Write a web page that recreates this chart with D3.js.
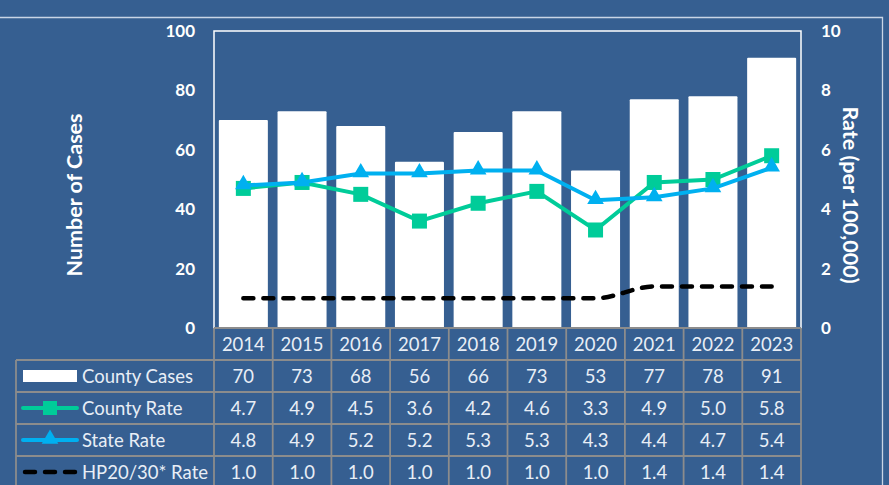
<!doctype html>
<html lang="en">
  <head>
    <meta charset="utf-8">
    <title>Cases and Rates 2014-2023</title>
    <script src="https://d3js.org/d3.v7.min.js"></script>
    <style>
      body { margin: 0; background: #365f91; }
      svg { display: block; }
    </style>
  </head>
  <body>
    <div id="chart"></div>
    <script>
      // data
      const years = ["2014", "2015", "2016", "2017", "2018", "2019", "2020", "2021", "2022", "2023"];
      const countyCases = [70, 73, 68, 56, 66, 73, 53, 77, 78, 91];
      const countyRate = [4.7, 4.9, 4.5, 3.6, 4.2, 4.6, 3.3, 4.9, 5.0, 5.8];
      const stateRate = [4.8, 4.9, 5.2, 5.2, 5.3, 5.3, 4.3, 4.4, 4.7, 5.4];
      const hpRate = [1.0, 1.0, 1.0, 1.0, 1.0, 1.0, 1.0, 1.4, 1.4, 1.4];
      const casesTicks = [0, 20, 40, 60, 80, 100];
      const rateTicks = [0, 2, 4, 6, 8, 10];

      const W = 889, H = 485;
      const plot = {left: 214, right: 801, top: 31, bottom: 328};
      const rowH = 32;
      const font = "Lato, 'Open Sans', sans-serif";
      const green = "#00cc99", blue = "#00b0f0", grid = "#8c8c8c", txt = "#e8eef6";

      const svg = d3.select("#chart").append("svg")
        .attr("width", W).attr("height", H)
        .style("font-family", font);

      svg.append("rect").attr("width", W).attr("height", H).attr("fill", "#365f91");

      // outer light frame line
      svg.append("path")
        .attr("d", `M-2,17.5H882.5V${H + 2}`)
        .attr("fill", "none").attr("stroke", "#c9d5e6").attr("stroke-width", 1.3);

      // scales
      const x = d3.scaleBand().domain(years)
        .range([plot.left, plot.right])
        .paddingInner(0.165).paddingOuter(0.0825);
      const xc = d => x(d) + x.bandwidth() / 2;
      const step = x.step();
      const colX = i => plot.left + i * step;

      const yL = d3.scaleLinear().domain([0, 100]).range([plot.bottom, plot.top]);
      const yR = d3.scaleLinear().domain([0, 10]).range([plot.bottom, plot.top]);

      // plot frame
      svg.append("rect")
        .attr("x", plot.left).attr("y", plot.top)
        .attr("width", plot.right - plot.left).attr("height", plot.bottom - plot.top)
        .attr("fill", "none").attr("stroke", "#fff").attr("stroke-width", 1.5);

      // bars
      svg.selectAll("rect.bar")
        .data(countyCases)
        .join("rect")
          .attr("class", "bar")
          .attr("x", (d, i) => x(years[i]))
          .attr("y", d => yL(d))
          .attr("width", x.bandwidth())
          .attr("height", d => yL(0) - yL(d))
          .attr("rx", 1)
          .attr("fill", "#fff");

      // axes
      const leftAxis = svg.append("g")
        .attr("transform", `translate(${plot.left},0)`)
        .call(d3.axisLeft(yL).tickValues(casesTicks).tickSize(0).tickPadding(19));
      const rightAxis = svg.append("g")
        .attr("transform", `translate(${plot.right},0)`)
        .call(d3.axisRight(yR).tickValues(rateTicks).tickSize(0).tickPadding(20));
      [leftAxis, rightAxis].forEach(a => {
        a.select(".domain").remove();
        a.selectAll("text")
          .attr("fill", "#fff")
          .style("font-family", font)
          .style("font-size", "17px")
          .style("font-weight", "bold");
      });

      // axis titles
      svg.append("text")
        .attr("transform", "translate(82,195) rotate(-90)")
        .attr("text-anchor", "middle")
        .attr("fill", "#fff")
        .style("font-size", "21.5px").style("font-weight", "bold")
        .text("Number of Cases");
      svg.append("text")
        .attr("transform", "translate(843,195) rotate(90)")
        .attr("text-anchor", "middle")
        .attr("fill", "#fff")
        .style("font-size", "21.5px").style("font-weight", "bold")
        .text("Rate (per 100,000)");

      // HP20/30 line (smoothed, dashed)
      svg.append("path")
        .datum(hpRate)
        .attr("d", d3.line().x((d, i) => xc(years[i])).y(d => yR(d)).curve(d3.curveMonotoneX))
        .attr("fill", "none").attr("stroke", "#000")
        .attr("stroke-width", 4.5).attr("stroke-linecap", "round")
        .attr("stroke-dasharray", "10,10");

      // county rate line
      const rateLine = d3.line().x((d, i) => xc(years[i])).y(d => yR(d));
      svg.append("path").datum(countyRate)
        .attr("d", rateLine)
        .attr("fill", "none").attr("stroke", green).attr("stroke-width", 4);
      svg.selectAll("rect.cm")
        .data(countyRate)
        .join("rect")
          .attr("class", "cm")
          .attr("x", (d, i) => xc(years[i]) - 7.5)
          .attr("y", d => yR(d) - 7.5)
          .attr("width", 15).attr("height", 15)
          .attr("fill", green);

      // state rate line
      const tri = d3.symbol().type(d3.symbolTriangle).size(120);
      svg.append("path").datum(stateRate)
        .attr("d", rateLine)
        .attr("fill", "none").attr("stroke", blue).attr("stroke-width", 4);
      svg.selectAll("path.sm")
        .data(stateRate)
        .join("path")
          .attr("class", "sm")
          .attr("transform", (d, i) => `translate(${xc(years[i])},${yR(d) - 1})`)
          .attr("d", tri)
          .attr("fill", blue);

      // data table
      const tbl = svg.append("g");
      const tableTop = plot.bottom;
      const rows = [
        {label: "County Cases", vals: countyCases.map(d => d3.format("d")(d))},
        {label: "County Rate", vals: countyRate.map(d3.format(".1f"))},
        {label: "State Rate", vals: stateRate.map(d3.format(".1f"))},
        {label: "HP20/30* Rate", vals: hpRate.map(d3.format(".1f"))}
      ];
      const legLeft = 16;

      // horizontal grid lines
      tbl.append("line")
        .attr("x1", plot.left).attr("x2", plot.right)
        .attr("y1", tableTop).attr("y2", tableTop);
      rows.forEach((r, k) => {
        const yy = tableTop + rowH * (k + 1);
        tbl.append("line")
          .attr("x1", legLeft).attr("x2", plot.right)
          .attr("y1", yy).attr("y2", yy);
      });
      // vertical grid lines
      d3.range(years.length + 1).forEach(i => {
        tbl.append("line")
          .attr("x1", colX(i)).attr("x2", colX(i))
          .attr("y1", tableTop).attr("y2", H + 2);
      });
      tbl.append("line")
        .attr("x1", legLeft).attr("x2", legLeft)
        .attr("y1", tableTop + rowH).attr("y2", H + 2);
      tbl.selectAll("line").attr("stroke", grid).attr("stroke-width", 1.8);

      const cellText = (xx, yy, s, anchor) => tbl.append("text")
        .attr("x", xx).attr("y", yy)
        .attr("dy", "0.36em")
        .attr("text-anchor", anchor)
        .attr("fill", txt)
        .style("font-size", "18.5px")
        .text(s);

      years.forEach((yr, i) => cellText(xc(yr), tableTop + rowH / 2, yr, "middle"));
      rows.forEach((r, k) => {
        const cy = tableTop + rowH * (k + 1) + rowH / 2;
        r.vals.forEach((v, i) => cellText(xc(years[i]), cy, v, "middle"));
        cellText(82, cy, r.label, "start");
      });

      // legend keys
      const keyY = k => tableTop + rowH * (k + 1) + rowH / 2;
      tbl.append("rect")
        .attr("x", 23).attr("y", keyY(0) - 6)
        .attr("width", 54).attr("height", 12)
        .attr("fill", "#fff");
      tbl.append("line")
        .attr("x1", 23).attr("x2", 77).attr("y1", keyY(1)).attr("y2", keyY(1))
        .attr("stroke", green).attr("stroke-width", 4).attr("stroke-linecap", "round");
      tbl.append("rect")
        .attr("x", 50 - 7).attr("y", keyY(1) - 7)
        .attr("width", 14).attr("height", 14).attr("fill", green);
      tbl.append("line")
        .attr("x1", 23).attr("x2", 77).attr("y1", keyY(2)).attr("y2", keyY(2))
        .attr("stroke", blue).attr("stroke-width", 4).attr("stroke-linecap", "round");
      tbl.append("path")
        .attr("transform", `translate(50,${keyY(2) - 1})`)
        .attr("d", tri).attr("fill", blue);
      tbl.append("line")
        .attr("x1", 25).attr("x2", 77).attr("y1", keyY(3)).attr("y2", keyY(3))
        .attr("stroke", "#000").attr("stroke-width", 4.5).attr("stroke-linecap", "round")
        .attr("stroke-dasharray", "10,10");
    </script>
  </body>
</html>
